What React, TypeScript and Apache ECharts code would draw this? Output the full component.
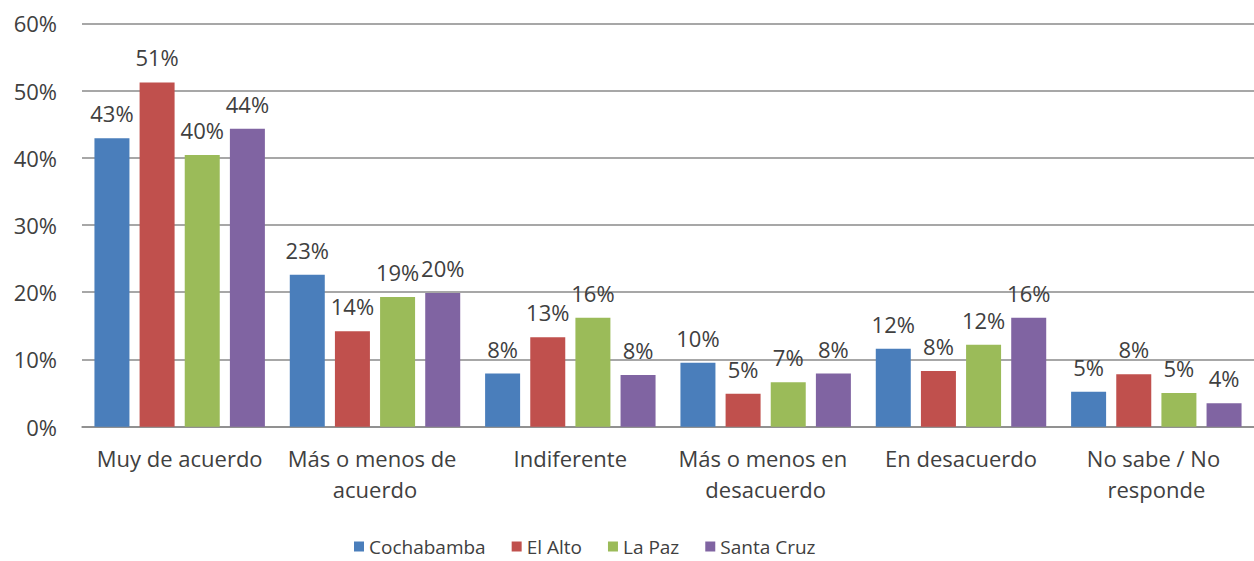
import React, { useEffect, useRef } from "react";
import * as echarts from "echarts";

const categories = [
  "Muy de acuerdo",
  "Más o menos de acuerdo",
  "Indiferente",
  "Más o menos en desacuerdo",
  "En desacuerdo",
  "No sabe / No responde",
];
const seriesNames = ["Cochabamba", "El Alto", "La Paz", "Santa Cruz"];
const cochabamba = [42.9, 22.6, 7.9, 9.5, 11.6, 5.2];
const elAlto = [51.2, 14.2, 13.3, 4.9, 8.3, 7.8];
const laPaz = [40.4, 19.3, 16.2, 6.6, 12.2, 5.0];
const santaCruz = [44.3, 19.9, 7.7, 7.9, 16.2, 3.5];
const yTicks = [0, 10, 20, 30, 40, 50, 60];

const colors = ["#4A7EBB", "#C0504D", "#9BBB59", "#8064A2"];
const FONT = "Open Sans";
const TEXT = "#404040";

export default function App() {
  const ref = useRef<HTMLDivElement>(null);
  useEffect(() => {
    document.body.style.margin = "0";
    const chart = echarts.init(ref.current!, null, { renderer: "svg" });
    const values = [cochabamba, elAlto, laPaz, santaCruz];
    chart.setOption({
      animation: false,
      backgroundColor: "#ffffff",
      textStyle: { fontFamily: FONT },
      grid: { left: 82, right: -11, top: 23.3, bottom: 134.3, containLabel: false },
      legend: {
        data: seriesNames,
        left: 349,
        top: 532,
        itemWidth: 10,
        itemHeight: 10,
        itemGap: 26,
        icon: "rect",
        textStyle: { fontFamily: FONT, fontSize: 19, color: TEXT },
      },
      xAxis: {
        type: "category",
        data: categories,
        axisTick: { show: false },
        axisLine: { lineStyle: { color: "#8a8a8a", width: 1.5 } },
        axisLabel: {
          interval: 0,
          margin: 16,
          fontFamily: FONT,
          fontSize: 22,
          lineHeight: 31,
          color: TEXT,
          width: 190,
          overflow: "break",
        },
      },
      yAxis: {
        type: "value",
        min: yTicks[0],
        max: yTicks[yTicks.length - 1],
        interval: 10,
        axisLine: { show: false },
        axisTick: { show: false },
        splitLine: { lineStyle: { color: "#8a8a8a", width: 1.5 } },
        axisLabel: {
          margin: 25,
          fontFamily: FONT,
          fontSize: 22,
          color: TEXT,
          formatter: (v: number) => `${v}%`,
        },
      },
      series: seriesNames.map((name, i) => ({
        name,
        type: "bar",
        data: values[i],
        barWidth: 35,
        barGap: "29%",
        itemStyle: { color: colors[i] },
        label: {
          show: true,
          position: "top",
          distance: 14,
          fontFamily: FONT,
          fontSize: 22,
          color: TEXT,
          formatter: (p: any) => `${Math.round(p.value)}%`,
        },
      })),
    });
    return () => chart.dispose();
  }, []);
  return (
    <div
      ref={ref}
      style={{ width: 1254, height: 561, position: "absolute", left: 0, top: 0 }}
    />
  );
}
